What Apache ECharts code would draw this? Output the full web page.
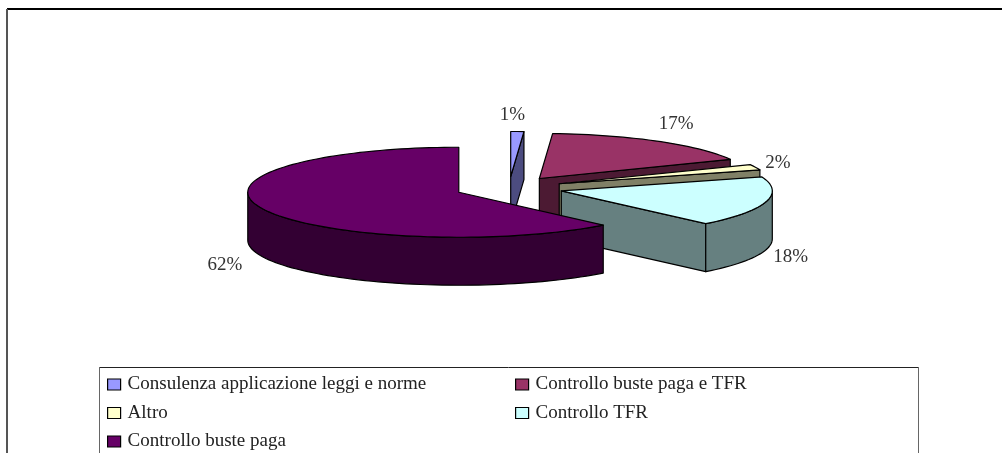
<!DOCTYPE html>
<html>
<head>
<meta charset="utf-8">
<style>
  html, body { margin: 0; padding: 0; background: #fff; }
  #chart { width: 1002px; height: 453px; }
</style>
<script src="https://cdn.jsdelivr.net/npm/echarts@6/dist/echarts.min.js"></script>
</head>
<body>
<div id="chart"></div>
<script>
// Slices, clockwise from twelve o'clock
var categories = [
  'Consulenza applicazione leggi e norme',
  'Controllo buste paga e TFR',
  'Altro',
  'Controllo TFR',
  'Controllo buste paga'
];
var shares = [1, 17, 2, 18, 62];
var topColors = ['#9999FF', '#993366', '#FFFFCC', '#CCFFFF', '#660066'];
var sideColors = ['#4C4C80', '#4C1A33', '#808066', '#668080', '#330033'];

// Tilted-disc geometry
var disc = { cx: 509, cy: 188, rx: 211, ry: 45, depth: 48, explode: 54, labelRx: 245, labelRy: 65 };
// Fine placement of the percentage labels, in pixels
var labelNudges = [[-6, 3], [-1, -1], [-9, 3], [-8, 2], [-6, 1]];
var FONT = '"Liberation Serif", serif';

var total = shares.reduce(function (a, b) { return a + b; }, 0);

function pt(center, deg, rx, ry) {
  var r = deg * Math.PI / 180;
  return [center[0] + rx * Math.sin(r), center[1] - ry * Math.cos(r)];
}
function arc(center, from, to) {
  var pts = [];
  var steps = Math.max(2, Math.ceil(Math.abs(to - from) / 2));
  for (var i = 0; i <= steps; i++) {
    pts.push(pt(center, from + (to - from) * i / steps, disc.rx, disc.ry));
  }
  return pts;
}
function down(p) { return [p[0], p[1] + disc.depth]; }

function renderSlice(index) {
  var before = 0;
  for (var i = 0; i < index; i++) before += shares[i];
  var a = before / total * 360;
  var b = (before + shares[index]) / total * 360;
  var mid = (a + b) / 2;
  var apex = pt([disc.cx, disc.cy], mid, disc.explode, disc.explode * disc.ry / disc.rx);
  var line = { stroke: '#000', lineWidth: 1.2, lineJoin: 'round' };
  var children = [];

  function poly(points, fill) {
    children.push({
      type: 'polygon',
      shape: { points: points },
      style: Object.assign({ fill: fill }, line),
      silent: true
    });
  }

  // Cut face along the leading radius, when it faces the viewer
  if (Math.sin(b * Math.PI / 180) > 1e-6) {
    var e = arc(apex, b, b)[0];
    poly([apex, e, down(e), down(apex)], sideColors[index]);
  }
  // Cut face along the trailing radius, when it faces the viewer
  if (Math.sin(a * Math.PI / 180) < -1e-6) {
    var s = arc(apex, a, a)[0];
    poly([apex, s, down(s), down(apex)], sideColors[index]);
  }
  // Curved rim on the near half of the disc
  var rimFrom = Math.max(a, 90), rimTo = Math.min(b, 270);
  if (rimTo > rimFrom) {
    var upper = arc(apex, rimFrom, rimTo);
    poly(upper.concat(upper.slice().reverse().map(down)), sideColors[index]);
  }
  // Top face
  poly([apex].concat(arc(apex, a, b)), topColors[index]);

  // Percentage label
  var lp = pt(apex, mid, disc.labelRx, disc.labelRy);
  if (Math.cos(mid * Math.PI / 180) < 0) lp = down(lp);
  children.push({
    type: 'text',
    silent: true,
    style: {
      x: lp[0] + labelNudges[index][0],
      y: lp[1] + labelNudges[index][1],
      text: shares[index] + '%',
      fill: '#333',
      font: '19px ' + FONT,
      align: 'center',
      verticalAlign: 'middle'
    }
  });
  return { type: 'group', children: children };
}

var series = categories.map(function (name, i) {
  return {
    type: 'custom',
    name: name,
    coordinateSystem: 'none',
    data: [shares[i]],
    itemStyle: { color: topColors[i] },
    z: 2 + i,
    silent: true,
    renderItem: function () { return renderSlice(i); }
  };
});

function legendColumn(names, left) {
  return {
    data: names,
    left: left,
    top: 374.5,
    orient: 'vertical',
    icon: 'rect',
    itemWidth: 13,
    itemHeight: 11,
    itemGap: 8.5,
    padding: 0,
    selectedMode: false,
    itemStyle: { borderColor: '#000', borderWidth: 1.2 },
    textStyle: { fontFamily: FONT, fontSize: 19, lineHeight: 20, color: '#222', padding: [0, 0, 0, 2] }
  };
}

function rule(x1, y1, x2, y2, color, width) {
  return {
    type: 'line',
    silent: true,
    shape: { x1: x1, y1: y1, x2: x2, y2: y2 },
    style: { stroke: color, lineWidth: width }
  };
}

var chart = echarts.init(document.getElementById('chart'), null, { renderer: 'canvas' });
chart.setOption({
  animation: false,
  backgroundColor: '#fff',
  tooltip: { show: false },
  legend: [
    legendColumn([categories[0], categories[2], categories[4]], 107),
    legendColumn([categories[1], categories[3]], 515)
  ],
  series: series,
  graphic: [
    rule(7, 9, 1002, 9, '#000', 2),
    rule(7, 9, 7, 453, '#555', 2),
    rule(99, 367.5, 918, 367.5, '#222', 1),
    rule(99.5, 367, 99.5, 453, '#666', 1),
    rule(918.5, 367, 918.5, 453, '#666', 1)
  ]
});
</script>
</body>
</html>
